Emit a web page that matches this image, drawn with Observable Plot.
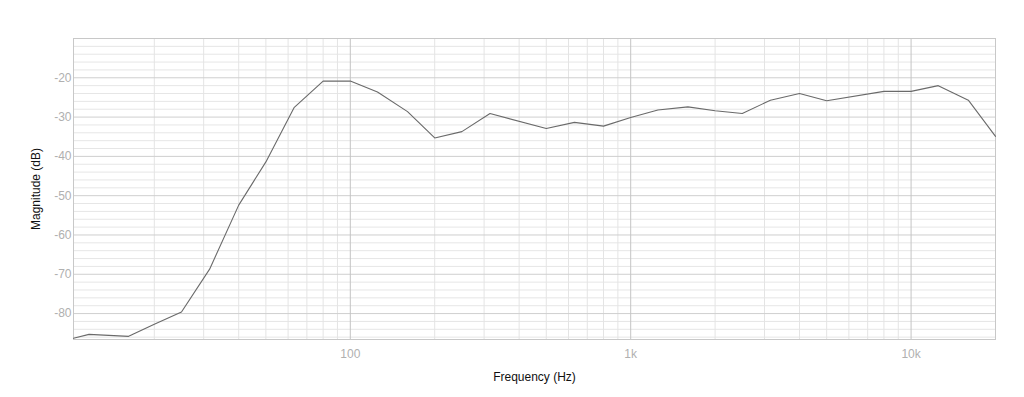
<!DOCTYPE html>
<html>
<head>
<meta charset="utf-8">
<script src="https://cdn.jsdelivr.net/npm/d3@7"></script>
<script src="https://cdn.jsdelivr.net/npm/@observablehq/plot@0.6"></script>
<style>
  html, body { margin: 0; padding: 0; background: #fff; }
  #chart svg { display: block; }
</style>
</head>
<body>
<div id="chart"></div>
<script>
// Frequency response data
const frequencies = [10.3, 11.7, 16.2, 20, 25, 31.5, 40, 50, 63, 80, 100, 125, 160, 200, 250, 315, 500, 630, 800, 1000, 1250, 1600, 2000, 2500, 3150, 4000, 5000, 8000, 10000, 12500, 16000, 20000];
const magnitudes  = [-86.3, -85.3, -85.8, -82.7, -79.6, -68.7, -52.4, -41.4, -27.6, -20.85, -20.8, -23.6, -28.6, -35.3, -33.7, -29.1, -32.9, -31.35, -32.3, -30.1, -28.2, -27.4, -28.4, -29.1, -25.7, -24.0, -25.85, -23.45, -23.45, -22.0, -25.7, -34.9];

const xDomain = [10.3, 20000];
const yDomain = [-86.6, -10];

const xTickValues = [100, 1000, 10000];
const xTickLabels = ["100", "1k", "10k"];
const yTickValues = [-80, -70, -60, -50, -40, -30, -20];

// grid values
const xMinorGrid = [];
for (const dec of [10, 100, 1000, 10000]) for (let m = 2; m <= 9; m++) { const v = dec * m; if (v > xDomain[0] && v < xDomain[1]) xMinorGrid.push(v); }
const xMajorGrid = xTickValues;
const yMinorGrid = d3.range(-86, -9, 2).filter(v => v % 10 !== 0);
const yMajorGrid = d3.range(-80, -10, 10);

const data = frequencies.map((f, i) => ({f, m: magnitudes[i]}));

const chart = Plot.plot({
  width: 1024,
  height: 397,
  marginLeft: 73,
  marginRight: 29,
  marginTop: 38,
  marginBottom: 58,
  style: {fontFamily: "'Liberation Sans', Arial, Helvetica, sans-serif", fontSize: "12px", background: "#fff"},
  x: {type: "log", domain: xDomain},
  y: {domain: yDomain},
  marks: [
    Plot.ruleY(yMinorGrid, {stroke: "#e6e6e6", strokeWidth: 1}),
    Plot.ruleX(xMinorGrid, {stroke: "#e4e4e4", strokeWidth: 1}),
    Plot.ruleY(yMajorGrid, {stroke: "#cfcfcf", strokeWidth: 1}),
    Plot.ruleX(xMajorGrid, {stroke: "#c4c4c4", strokeWidth: 1}),
    Plot.frame({stroke: "#c8c8c8"}),
    Plot.line(data, {x: "f", y: "m", stroke: "#6a6a6a", strokeWidth: 1.1}),
    Plot.axisX({ticks: xTickValues, tickFormat: d => xTickLabels[xTickValues.indexOf(d)], tickSize: 0, tickPadding: 10, fill: "#b0b0b0", label: null}),
    Plot.axisX({ticks: [], label: "Frequency (Hz)", labelAnchor: "center", labelArrow: "none", labelOffset: 41, fill: "#111"}),
    Plot.axisY({ticks: yTickValues, tickFormat: d => String(d), tickSize: 0, tickPadding: 2, fill: "#b0b0b0", label: null}),
    Plot.axisY({ticks: [], label: "Magnitude (dB)", labelAnchor: "center", labelArrow: "none", labelOffset: 42, fill: "#111"})
  ]
});
document.getElementById("chart").appendChild(chart);
</script>
</body>
</html>
